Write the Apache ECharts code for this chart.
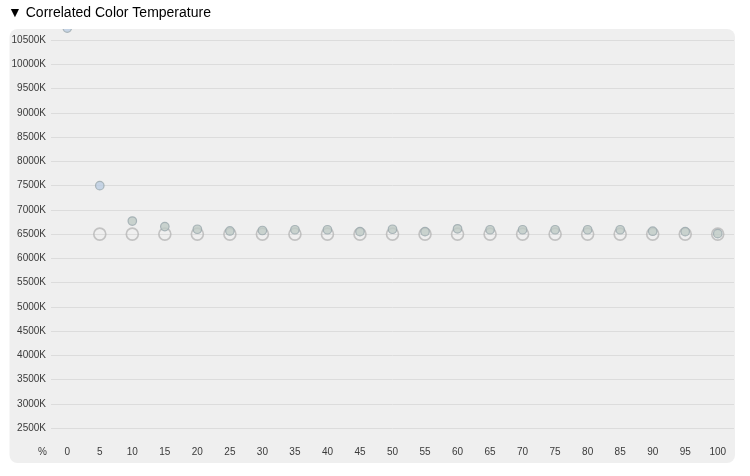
<!DOCTYPE html>
<html><head><meta charset="utf-8">
<script src="https://cdn.jsdelivr.net/npm/echarts@6/dist/echarts.min.js"></script>
<style>html,body{margin:0;padding:0;background:#fff}#c{width:750px;height:476px}</style>
</head><body><div id="c"></div>
<script>
var categories = ['0','5','10','15','20','25','30','35','40','45','50','55','60','65','70','75','80','85','90','95','100'];
var measuredCCT = [10750,7500,6770,6655,6600,6565,6575,6590,6590,6550,6600,6550,6610,6590,6590,6590,6590,6590,6560,6550,6510];
var targetCCT = [null,6500,6500,6500,6500,6500,6500,6500,6500,6500,6500,6500,6500,6500,6500,6500,6500,6500,6500,6500,6500];
var yTicksMin = 2500, yTicksMax = 11000, yStep = 500;

var chart = echarts.init(document.getElementById('c'), null, {renderer:'canvas'});
var font = '"Liberation Sans", Arial, Helvetica, sans-serif';
chart.setOption({
  animation: false,
  backgroundColor: '#ffffff',
  grid: {left: 51, right: 16, top: 16, bottom: 48},
  xAxis: {
    type: 'category', data: categories, boundaryGap: true,
    axisLine: {show: false}, axisTick: {show: false},
    axisLabel: {margin: 19, color: '#3a3a3a', fontSize: 10, fontFamily: font},
    splitLine: {show: false}
  },
  yAxis: {
    type: 'value', min: yTicksMin, max: yTicksMax, interval: yStep,
    axisLine: {show: false}, axisTick: {show: false},
    axisLabel: {margin: 5, color: '#3a3a3a', fontSize: 10, fontFamily: font,
      formatter: function (v) { return v >= yTicksMax ? '' : v + 'K'; }},
    splitLine: {lineStyle: {color: '#dcdcdc', width: 1}}
  },
  graphic: [
    {type: 'rect', z: -10, shape: {x: 9.5, y: 29, width: 725.5, height: 434, r: 8}, style: {fill: '#efefef'}},
    {type: 'rect', z: 100, shape: {x: 0, y: 0, width: 750, height: 29}, style: {fill: '#ffffff'}},
    {type: 'text', z: 101, left: 8, top: 6, style: {text: '\u25BC Correlated Color Temperature', fill: '#000', font: '14px ' + font}},
    {type: 'text', z: 101, left: 38, top: 447, style: {text: '%', fill: '#3a3a3a', font: '10px ' + font}}
  ],
  series: [
    {
      type: 'scatter', data: targetCCT, symbol: 'circle', symbolSize: 12, clip: false, z: 2,
      itemStyle: {color: 'rgba(239,239,239,0)', borderColor: '#b7b7b7', borderWidth: 1.6}
    },
    {
      type: 'scatter', data: measuredCCT, symbol: 'circle', symbolSize: 8.5, clip: false, z: 3,
      itemStyle: {
        color: function (p) { return p.value > 7000 ? '#bccde2' : '#bfcac6'; },
        borderColor: '#9aa7ac', borderWidth: 1.2
      }
    }
  ]
});
</script></body></html>
